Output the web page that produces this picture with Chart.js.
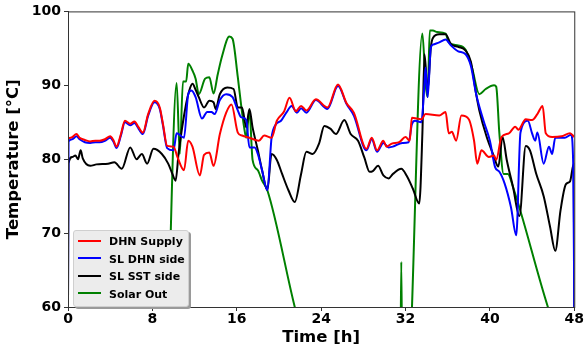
<!DOCTYPE html>
<html>
<head>
  <title>Temperatures</title>
  <script src="https://cdn.jsdelivr.net/npm/chart.js"></script>
  <style>
    body {
      margin: 0;
      background: #fff;
      font-family: "DejaVu Sans", sans-serif;
    }
    #wrap {
      position: relative;
      width: 584px;
      height: 352px;
    }
    #legend {
      position: absolute;
      left: 73px;
      top: 230px;
      width: 114px;
      padding: 2px 0 3px 0;
      background: #ececec;
      border: 1px solid #cfcfcf;
      border-radius: 3px;
      box-shadow: 2px 2px 0 #9a9a9a;
      font-weight: bold;
      font-size: 11px;
    }
    #legend div {
      height: 17.5px;
      line-height: 17.5px;
      white-space: nowrap;
    }
    #legend span.line {
      display: inline-block;
      width: 23px;
      height: 2px;
      margin: 0 8px 3px 4px;
      vertical-align: middle;
    }
  </style>
</head>
<body>
  <div id="wrap">
    <canvas id="tempChart"></canvas>
    <div id="legend"></div>
  </div>

  <script>
    // hours / °C
    const dhnTime = [0, 0.4, 0.8, 1.1, 1.6, 2.1, 2.6, 3.0, 3.5, 4.0, 4.3, 4.6, 5.0, 5.4, 5.9, 6.3, 6.7, 7.1, 7.6, 8.2, 8.7, 9.0, 9.4, 10.0,
      10.4, 11.0, 11.4, 11.8, 12.5, 12.9, 13.4, 13.8, 14.4, 15.0, 15.5, 16.1, 16.5, 17.2, 18.1, 18.6, 19.3, 19.8, 20.5, 21.0, 21.6,
      22.1, 22.6, 23.5, 24.6, 25.6, 26.4, 27.1, 28.3, 28.8, 29.3, 29.9, 30.2, 30.7, 31.4, 32.0, 32.4, 32.6, 33.5, 33.9, 35.2, 35.8,
      36.1, 36.4, 36.8, 37.3, 38.0, 38.5, 38.8, 39.2, 39.9, 40.4, 40.6, 41.1, 41.8, 42.4, 42.7, 43.4, 44.0, 44.5, 45.0, 45.3, 45.9,
      46.8, 47.6, 48.0];
    const dhnSupply = [82.8, 83.0, 83.4, 82.9, 82.6, 82.4, 82.5, 82.5, 82.7, 83.1, 82.6, 81.7, 83.3, 85.2, 84.8, 85.1, 84.3, 83.6, 86.1, 87.9, 87.0, 84.8, 81.8, 81.7,
      80.2, 78.5, 82.5, 81.7, 77.8, 80.6, 80.9, 79.1, 83.4, 86.3, 87.4, 83.6, 83.2, 82.9, 82.5, 83.2, 82.9, 85.2, 86.5, 88.3, 86.5,
      87.2, 86.6, 88.1, 87.0, 90.1, 87.6, 86.3, 81.4, 82.9, 81.2, 82.5, 81.7, 82.1, 82.3, 83.0, 82.5, 85.6, 85.4, 86.1, 85.9, 86.4,
      83.5, 83.7, 82.5, 85.9, 85.4, 82.5, 79.4, 81.2, 80.3, 80.5, 79.9, 83.0, 83.5, 84.4, 84.0, 85.4, 85.3, 86.1, 87.2, 83.5, 83.0,
      83.1, 83.5, 83.0];

    const slDhnTime = [0, 0.05, 0.4, 0.8, 1.1, 1.6, 2.1, 2.6, 3.0, 3.5, 4.0, 4.3, 4.6, 5.0, 5.4, 5.9, 6.3, 6.7, 7.1, 7.6, 8.2, 8.7, 9.0, 9.4,
      10.0, 10.3, 11.0, 11.4, 11.7, 12.1, 12.7, 13.2, 13.6, 13.9, 14.4, 15.0, 15.6, 16.1, 16.4, 16.9, 17.2, 17.7, 18.0, 18.4, 18.9,
      19.3, 19.7, 20.2, 20.7, 21.2, 21.7, 22.1, 22.6, 23.5, 24.6, 25.6, 26.4, 27.1, 28.3, 28.8, 29.3, 29.9, 30.4, 30.8, 31.7, 32.3,
      32.6, 32.9, 33.5, 33.8, 33.9, 34.1, 34.4, 34.6, 35.2, 35.8, 36.3, 37.0, 37.7, 38.2, 38.7, 39.4, 40.0, 40.5, 40.9, 41.4, 42.0,
      42.5, 42.9, 43.6, 44.0, 44.3, 44.5, 45.1, 45.6, 45.9, 46.2, 47.1, 47.7, 47.9, 48.0];
    const slDhnSide = [60, 82.4, 82.7, 83.1, 82.7, 82.3, 82.2, 82.3, 82.3, 82.5, 82.9, 82.4, 81.5, 83.1, 85.0, 84.6, 84.9, 84.1, 83.4, 85.9, 87.7, 86.8, 84.6, 81.5,
      81.2, 83.5, 82.9, 88.8, 89.3, 88.4, 85.5, 86.4, 86.4, 86.1, 88.0, 88.8, 88.4, 86.6, 85.7, 85.3, 81.6, 81.6, 80.7, 78.5, 75.8,
      82.9, 84.7, 85.2, 86.3, 87.2, 86.3, 86.9, 86.3, 88.0, 86.8, 89.9, 87.5, 85.9, 81.2, 82.7, 81.0, 82.2, 81.6, 81.7, 82.2, 82.3,
      84.7, 85.2, 85.0, 90.2, 92.4, 88.4, 95.1, 95.5, 95.8, 96.2, 95.4, 94.6, 94.2, 92.6, 88.8, 85.2, 82.5, 78.9, 78.3, 76.7, 73.5,
      69.7, 83.6, 85.2, 83.5, 82.5, 83.6, 79.4, 81.7, 80.7, 82.9, 82.9, 83.3, 79.4, 60];

    const slSstTime = [0, 0.05, 0.4, 0.7, 0.95, 1.2, 1.4, 2.1, 2.7, 3.8, 4.4, 5.1, 5.9, 6.5, 7.0, 7.5, 8.1, 8.9, 9.5, 9.9, 10.2, 10.5,
      11.2, 11.5, 11.8, 12.1, 12.4, 12.9, 13.4, 13.8, 14.0, 14.4, 15.1, 15.7, 16.1, 16.5, 16.9, 17.2, 17.5, 18.0, 18.4, 18.9, 19.3,
      19.8, 20.3, 20.9, 21.5, 22.1, 22.6, 23.2, 23.8, 24.3, 24.9, 25.4, 26.2, 26.8, 27.5, 28.1, 28.6, 28.9, 29.4, 29.9, 30.4, 30.8,
      31.6, 32.1, 32.7, 33.3, 33.6, 33.8, 34.1, 34.4, 34.6, 35.2, 35.8, 36.3, 37.0, 37.7, 38.2, 38.7, 39.0, 39.7, 40.3, 40.8, 41.2,
      41.6, 42.2, 42.8, 43.4, 43.8, 44.4, 45.1, 45.7, 46.2, 46.7, 47.2, 47.6, 47.95, 48.0];
    const slSstSide = [60, 79.4, 80.3, 80.5, 80.0, 81.2, 80.1, 79.1, 79.3, 79.4, 79.6, 78.7, 81.6, 80.0, 80.7, 79.4, 81.4, 80.7, 79.4, 78.0, 77.1, 81.0,
      87.5, 89.3, 90.2, 89.4, 88.4, 87.0, 87.9, 87.7, 86.8, 88.8, 89.7, 89.5, 87.0, 87.0, 84.3, 86.8, 84.3, 81.2, 78.5, 75.8, 80.7,
      79.9, 78.0, 75.8, 74.2, 78.0, 81.0, 80.7, 82.1, 84.5, 84.1, 83.4, 85.3, 83.4, 82.5, 80.2, 78.3, 78.4, 79.1, 77.8, 77.4, 78.0,
      78.7, 77.8, 76.0, 74.0, 83.5, 94.2, 89.3, 95.1, 96.4, 96.9, 96.9, 95.6, 95.2, 94.7, 93.2, 88.8, 86.6, 83.0, 80.7, 79.0, 83.0,
      79.9, 76.2, 72.3, 81.8, 81.2, 78.0, 75.0, 70.9, 67.6, 73.1, 76.6, 77.0, 79.4, 60];

    const solarTime = [0, 9.2, 9.55, 10.3, 10.6, 10.9, 11.2, 11.4, 11.8, 12.1, 12.4, 13.0, 13.4, 13.8, 14.2, 14.6, 15.3, 15.6, 16.1, 16.4,
      16.7, 16.9, 17.2, 17.5, 18.0, 18.4, 18.9, 21.5, 23.0, 31.5, 31.6, 31.7, 32.2, 33.6, 33.9, 34.1, 34.3, 34.6, 35.0, 35.8, 36.1,
      37.0, 37.7, 38.3, 39.0, 39.6, 40.4, 40.6, 40.9, 41.3, 41.7, 42.2, 45.5, 48.0];
    const solarOut = [40, 40, 60, 90.3, 80.7, 90.5, 90.5, 92.9, 92.0, 90.9, 88.8, 90.9, 91.1, 88.9, 91.5, 93.9, 96.6, 96.3, 91.1, 87.5,
      84.3, 82.9, 86.6, 79.9, 78.5, 77.1, 75.8, 60, 52, 50, 66.1, 50, 50, 97.0, 90.2, 88.4, 97.4, 97.4, 97.2, 97.0, 95.8,
      95.4, 94.8, 92.4, 88.8, 89.5, 90.0, 89.8, 83.5, 78.0, 78.0, 76.2, 60, 50];

    const xTicks = [0, 8, 16, 24, 32, 40, 48];
    const yTicks = [60, 70, 80, 90, 100];

    function pts(ts, vs) {
      return ts.map((t, i) => ({ x: t, y: vs[i] }));
    }

    const series = [
      { label: 'DHN Supply', color: '#ff0000', data: pts(dhnTime, dhnSupply) },
      { label: 'SL DHN side', color: '#0000ff', data: pts(slDhnTime, slDhnSide) },
      { label: 'SL SST side', color: '#000000', data: pts(slSstTime, slSstSide) },
      { label: 'Solar Out', color: '#008000', data: pts(solarTime, solarOut) }
    ];

    // matplotlib style box around the plot
    const frame = {
      id: 'frame',
      afterDraw(c) {
        const a = c.chartArea, g = c.ctx;
        g.save();
        g.strokeStyle = '#333';
        g.lineWidth = 1;
        g.strokeRect(a.left + 0.5, a.top + 0.5, a.right - a.left, a.bottom - a.top);
        g.restore();
      }
    };

    const tickFont = { family: 'DejaVu Sans', weight: 'bold', size: 14 };
    const titleFont = { family: 'DejaVu Sans', weight: 'bold', size: 16.5 };

    new Chart(document.getElementById('tempChart'), {
      type: 'line',
      data: {
        datasets: series.map(s => ({
          label: s.label,
          data: s.data,
          borderColor: s.color,
          backgroundColor: s.color,
          borderWidth: 2,
          pointRadius: 0,
          cubicInterpolationMode: 'monotone',
          fill: false
        }))
      },
      options: {
        responsive: true,
        maintainAspectRatio: false,
        animation: false,
        layout: { padding: { top: 10, right: 8, left: 0, bottom: 0 } },
        plugins: {
          legend: { display: false },
          tooltip: { enabled: false }
        },
        scales: {
          x: {
            type: 'linear',
            min: 0,
            max: 48,
            afterBuildTicks: ax => { ax.ticks = xTicks.map(v => ({ value: v })); },
            afterFit: ax => { ax.height = 45; },
            grid: { drawOnChartArea: false, drawTicks: true, tickLength: 4, color: '#333' },
            border: { color: '#333' },
            ticks: { color: '#000', font: tickFont, padding: 0, maxRotation: 0 },
            title: { display: true, text: 'Time [h]', color: '#000', font: titleFont, padding: { top: 0 } }
          },
          y: {
            min: 60,
            max: 100,
            afterBuildTicks: ax => { ax.ticks = yTicks.map(v => ({ value: v })); },
            afterFit: ax => { ax.width = 68; },
            grid: { drawOnChartArea: false, drawTicks: true, tickLength: 4, color: '#333' },
            border: { color: '#333' },
            ticks: { color: '#000', font: tickFont, padding: 3 },
            title: { display: true, text: 'Temperature [°C]', color: '#000', font: titleFont, padding: { bottom: 2 } }
          }
        }
      },
      plugins: [frame]
    });

    const legend = document.getElementById('legend');
    series.forEach(s => {
      const row = document.createElement('div');
      row.innerHTML = '<span class="line" style="background:' + s.color + '"></span>' + s.label;
      legend.appendChild(row);
    });
  </script>
</body>
</html>
